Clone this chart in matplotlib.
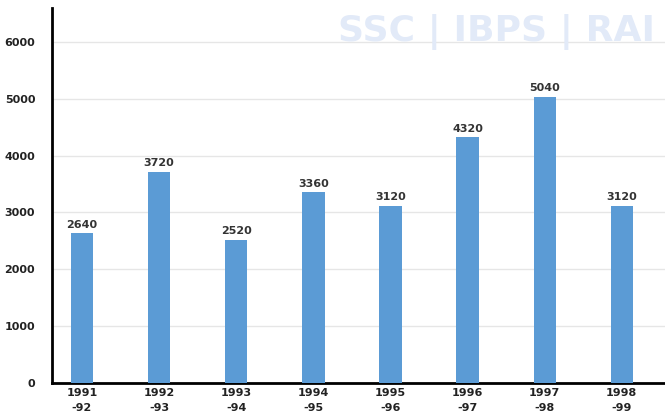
import numpy as np
import matplotlib.pyplot as plt

years = ['1991\n-92', '1992\n-93', '1993\n-94', '1994\n-95',
         '1995\n-96', '1996\n-97', '1997\n-98', '1998\n-99']
values = [2640, 3720, 2520, 3360, 3120, 4320, 5040, 3120]
yticks = [0, 1000, 2000, 3000, 4000, 5000, 6000]

fig = plt.figure(figsize=(6.65, 4.18), dpi=100)
ax = fig.add_axes([0.078, 0.084, 0.922, 0.897])

x = np.arange(len(values))
ax.bar(x, values, width=0.29, color='#5b9bd5', zorder=3)

for xi, v in zip(x, values):
    ax.text(xi, v + 60, str(v), ha='center', va='bottom',
            fontsize=8, fontweight='bold', color='#333333', zorder=4)

ax.set_xlim(-0.39, 7.56)
ax.set_ylim(0, 6600)
ax.set_yticks(yticks)
ax.set_yticklabels([str(t) for t in yticks], fontsize=8, fontweight='bold', color='#222222')
ax.set_xticks(x)
ax.set_xticklabels(years, fontsize=8, fontweight='bold', color='#222222', linespacing=1.6)
ax.tick_params(axis='both', length=0)
ax.tick_params(axis='y', pad=12)
ax.tick_params(axis='x', pad=4)

ax.grid(axis='y', color='#e6e6e6', lw=1, zorder=0)
for side in ['top', 'right']:
    ax.spines[side].set_visible(False)
ax.spines['left'].set_linewidth(2)
ax.spines['bottom'].set_linewidth(2)

# watermark
fig.text(0.508, 0.923, 'SSC | IBPS | RAI', fontsize=26, fontweight='bold',
         color='#e2eaf8', ha='left', va='center', zorder=0)

fig.savefig('out.png', dpi=100)
